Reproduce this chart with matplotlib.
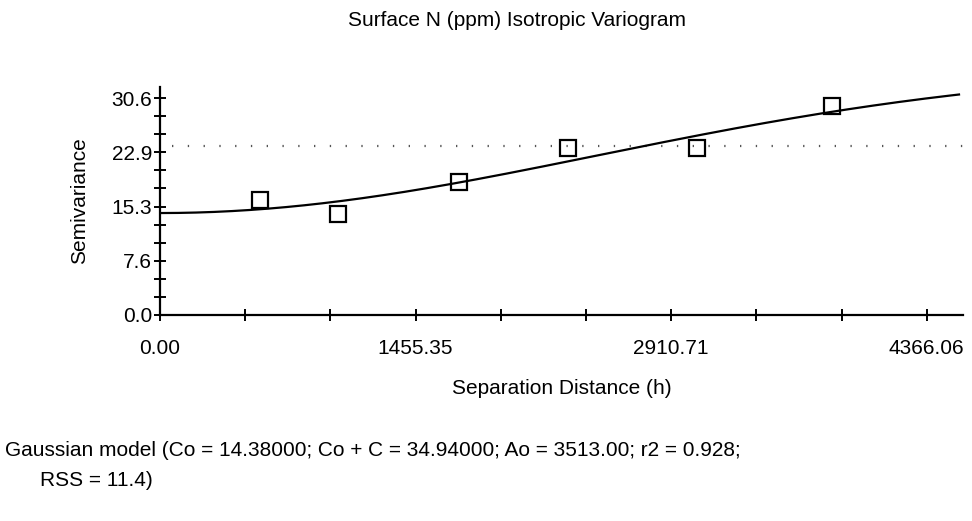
import numpy as np
import matplotlib
matplotlib.use("Agg")
import matplotlib.pyplot as plt
from matplotlib.ticker import FixedLocator

plt.rcParams['font.family'] = ['Liberation Sans', 'DejaVu Sans']

lag_dist = [569, 1013, 1701, 2323, 3056, 3829]
semivar = [16.29, 14.19, 18.71, 23.55, 23.62, 29.42]

# Gaussian model parameters (from the caption)
nugget = 14.38
sill = 34.94
a_range = 3513.0
sample_var = 23.77

x_ticks = [0.0, 1455.35, 2910.71, 4366.06]
x_labels = ['0.00', '1455.35', '2910.71', '4366.06']
y_ticks = [0.0, 7.65, 15.3, 22.95, 30.6]
y_labels = ['0.0', '7.6', '15.3', '22.9', '30.6']

fs = 15

fig = plt.figure(figsize=(9.72, 5.21), dpi=100)
ax = fig.add_axes([160 / 972, 1 - 315 / 521, (962.7 - 160) / 972, (315 - 86.7) / 521])

xmax = 4571
ymax = 32.2
ax.set_xlim(0, xmax)
ax.set_ylim(0, ymax)

h = np.linspace(0, 4550, 400)
gamma = nugget + (sill - nugget) * (1 - np.exp(-(h / a_range) ** 2))
ax.plot(h, gamma, color='black', lw=1.6, zorder=3)

ax.axhline(sample_var, xmin=0.015, xmax=1.0,
           color='#555555', lw=1.6, ls=(0, (0.6, 6.5)), zorder=2)

ax.plot(lag_dist, semivar, ls='none', marker='s', ms=12, mfc='none',
        mec='black', mew=1.6, zorder=4)

for s in ['top', 'right']:
    ax.spines[s].set_visible(False)
for s in ['left', 'bottom']:
    ax.spines[s].set_linewidth(1.6)

ax.xaxis.set_major_locator(FixedLocator(x_ticks))
ax.set_xticklabels(x_labels)
ax.xaxis.set_minor_locator(FixedLocator([485.12 * i for i in range(10)]))
ax.yaxis.set_major_locator(FixedLocator(y_ticks))
ax.set_yticklabels(y_labels)
ax.yaxis.set_minor_locator(FixedLocator([2.55 * i for i in range(13)]))

ax.tick_params(which='both', direction='inout', length=9, width=1.4, color='black')
ax.tick_params(axis='x', which='major', labelsize=fs, pad=13)
ax.tick_params(axis='y', which='major', labelsize=fs, pad=1)

ax.set_xlabel('Separation Distance (h)', fontsize=fs, labelpad=15)
ax.set_ylabel('Semivariance', fontsize=fs, labelpad=16)

fig.text(517 / 972, 1 - 20 / 521, 'Surface N (ppm) Isotropic Variogram',
         ha='center', va='center', fontsize=fs)
fig.text(5 / 972, 1 - 451 / 521,
         'Gaussian model (Co = 14.38000; Co + C = 34.94000; Ao = 3513.00; r2 = 0.928;',
         ha='left', va='center', fontsize=fs)
fig.text(40 / 972, 1 - 481 / 521, 'RSS = 11.4)', ha='left', va='center', fontsize=fs)

fig.savefig('out.png', dpi=100)
